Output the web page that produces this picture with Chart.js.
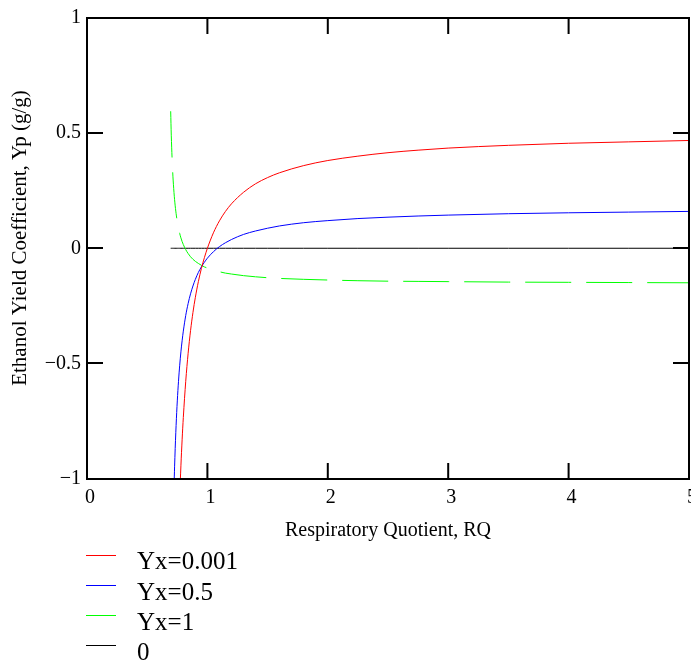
<!DOCTYPE html>
<html>
<head>
<meta charset="utf-8">
<script src="https://cdn.jsdelivr.net/npm/chart.js@4.4.0/dist/chart.umd.min.js"></script>
<style>
  html, body { margin: 0; padding: 0; background: #fff; }
  #wrap { position: relative; width: 691px; height: 663px; }
  #c { position: absolute; left: 0; top: 0; }
  .lg-line { position: absolute; height: 1px; width: 30px; left: 86px; }
  .lg-text { position: absolute; left: 137px; font: 25px/25px "Liberation Serif", "Times New Roman", serif; color: #000; white-space: nowrap; }
</style>
</head>
<body>
<div id="wrap">
  <canvas id="c" width="691" height="663"></canvas>
  <div id="legend"></div>
</div>
<script>
// ---- values ----
const rq = [0.695, 0.70, 0.71, 0.72, 0.73, 0.74, 0.75, 0.76, 0.77, 0.78, 0.79, 0.80,
            0.82, 0.84, 0.86, 0.88, 0.90, 0.925, 0.95, 0.975, 1.0, 1.05, 1.1, 1.15, 1.2,
            1.3, 1.4, 1.5, 1.6, 1.8, 2.0, 2.25, 2.5, 2.75, 3.0, 3.5, 4.0, 4.5, 5.0];
const yx0001 = [null, null, null, null, null, null, null, -1.242, -1.080, -0.945, -0.832, -0.735,
            -0.578, -0.456, -0.358, -0.279, -0.213, -0.145, -0.088, -0.041, 0.0, 0.067, 0.119, 0.160, 0.193,
            0.243, 0.280, 0.307, 0.328, 0.359, 0.381, 0.400, 0.415, 0.426, 0.435, 0.447, 0.456, 0.462, 0.468];
const yx05 = [null, null, -1.357, -1.094, -0.908, -0.770, -0.663, -0.578, -0.508, -0.450, -0.402, -0.360,
            -0.292, -0.240, -0.198, -0.164, -0.135, -0.105, -0.081, -0.061, -0.043, -0.015, 0.007, 0.024, 0.038,
            0.060, 0.075, 0.087, 0.097, 0.111, 0.120, 0.129, 0.135, 0.140, 0.144, 0.150, 0.154, 0.157, 0.160];
const yx1 = [0.595, 0.491, 0.350, 0.260, 0.197, 0.151, 0.115, 0.087, 0.064, 0.045, 0.029, 0.016,
            -0.006, -0.023, -0.037, -0.048, -0.057, -0.066, -0.074, -0.081, -0.086, -0.095, -0.102, -0.108, -0.112,
            -0.119, -0.124, -0.128, -0.131, -0.135, -0.138, -0.141, -0.143, -0.144, -0.145, -0.147, -0.148, -0.149, -0.150];
const zeroLine = [0, 0, 0, 0, 0, 0, 0, 0, 0, 0, 0, 0,
            0, 0, 0, 0, 0, 0, 0, 0, 0, 0, 0, 0, 0,
            0, 0, 0, 0, 0, 0, 0, 0, 0, 0, 0, 0, 0, 0];
const seriesLabels = ["Yx=0.001", "Yx=0.5", "Yx=1", "0"];
const xTicks = [0, 1, 2, 3, 4, 5];
const yTicks = [-1, -0.5, 0, 0.5, 1];
const xTitle = "Respiratory Quotient, RQ";
const yTitle = "Ethanol Yield Coefficient, Yp (g/g)";

const toPts = (arr) => rq.map((x, i) => ({ x: x, y: arr[i] }));
const fmt = (v) => (v < 0 ? "\u2212" + Math.abs(v) : String(v));
const FONT = '"Liberation Serif", "Times New Roman", serif';

const frameTicks = {
  id: 'frameTicks',
  afterDraw(chart) {
    const { ctx, chartArea: a, scales } = chart;
    const L = 16;
    const l = Math.round(a.left), r = Math.round(a.right), t = Math.round(a.top), b = Math.round(a.bottom);
    ctx.save();
    ctx.strokeStyle = '#000';
    ctx.lineWidth = 2;
    ctx.beginPath();
    ctx.rect(l, t, r - l, b - t);
    ctx.stroke();
    ctx.beginPath();
    scales.x.ticks.forEach(tk => {
      const px = scales.x.getPixelForValue(tk.value);
      ctx.moveTo(px, b); ctx.lineTo(px, b - L);
      ctx.moveTo(px, t); ctx.lineTo(px, t + L);
    });
    scales.y.ticks.forEach(tk => {
      const py = Math.round(scales.y.getPixelForValue(tk.value));
      ctx.moveTo(l, py); ctx.lineTo(l + L, py);
      ctx.moveTo(r, py); ctx.lineTo(r - L, py);
    });
    ctx.stroke();
    // y-axis title (rotated), placed as in the reference
    ctx.fillStyle = '#000';
    ctx.font = '21px ' + FONT;
    ctx.textAlign = 'center';
    ctx.textBaseline = 'middle';
    ctx.translate(20, 238);
    ctx.rotate(-Math.PI / 2);
    ctx.fillText(yTitle, 0, 0);
    ctx.restore();
  }
};

const colors = ['#ff0000', '#0000ff', '#00ff00', '#000000'];
const series = [yx0001, yx05, yx1, zeroLine];

const chart = new Chart(document.getElementById('c'), {
  type: 'line',
  data: {
    datasets: series.map((s, i) => ({
      label: seriesLabels[i],
      data: toPts(s),
      borderColor: colors[i],
      backgroundColor: colors[i],
      borderWidth: 1,
      pointRadius: 0,
      fill: false,
      cubicInterpolationMode: 'monotone',
      borderDash: i === 2 ? [46, 15] : [],
      spanGaps: false
    }))
  },
  options: {
    responsive: false,
    animation: false,
    devicePixelRatio: 1,
    layout: { padding: { left: 0, top: 14.5, right: 2, bottom: 114.5 } },
    plugins: { legend: { display: false }, tooltip: { enabled: false } },
    scales: {
      x: {
        type: 'linear', min: 0, max: 5,
        afterBuildTicks: (s) => { s.ticks = xTicks.map(v => ({ value: v })); },
        afterFit: (s) => { s.height = 70; s.paddingLeft = 0; s.paddingRight = 0; },
        grid: { display: false, drawTicks: false },
        border: { display: false },
        ticks: { color: '#000', padding: 7, labelOffset: 3, maxRotation: 0, autoSkip: false, font: { family: FONT, size: 20 }, callback: (v) => fmt(v) },
        title: { display: true, text: xTitle, color: '#000', font: { family: FONT, size: 20 }, padding: { top: 0, bottom: 6 } }
      },
      y: {
        type: 'linear', min: -1, max: 1,
        afterBuildTicks: (s) => { s.ticks = yTicks.map(v => ({ value: v })); },
        afterFit: (s) => { s.width = 87; },
        grid: { display: false, drawTicks: false },
        border: { display: false },
        ticks: { color: '#000', padding: 6, autoSkip: false, font: { family: FONT, size: 20 }, callback: (v) => fmt(v) },
        title: { display: false, text: yTitle }
      }
    }
  },
  plugins: [frameTicks]
});

// HTML legend built from the chart's datasets
const lg = document.getElementById('legend');
chart.data.datasets.forEach((ds, i) => {
  const line = document.createElement('div');
  line.className = 'lg-line';
  line.style.top = (555 + 30.1 * i).toFixed(1) + 'px';
  line.style.background = ds.borderColor;
  lg.appendChild(line);
  const txt = document.createElement('div');
  txt.className = 'lg-text';
  txt.style.top = (548.4 + 30.1 * i).toFixed(1) + 'px';
  txt.textContent = ds.label;
  lg.appendChild(txt);
});
</script>
</body>
</html>
